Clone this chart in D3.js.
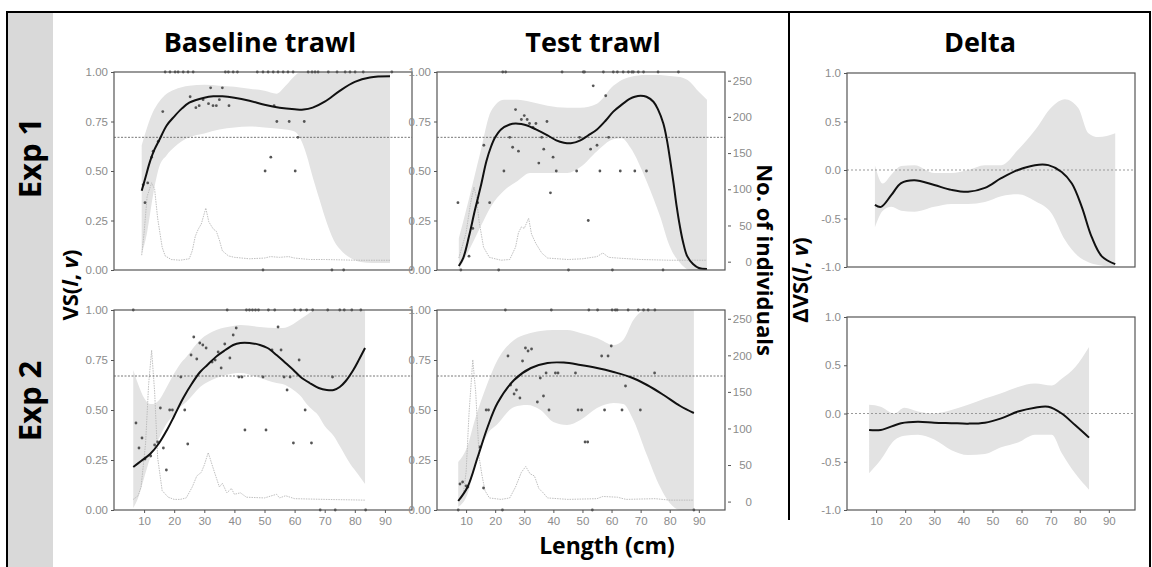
<!DOCTYPE html>
<html>
<head>
<meta charset="utf-8">
<script src="https://cdn.jsdelivr.net/npm/d3@7"></script>
<style>
  body { margin: 0; background: #fff; }
  svg text { font-family: "Liberation Sans", Arial, sans-serif; }
  .big { font-family: "Open Sans", Lato, sans-serif !important; font-weight: 700; fill: #000; }
</style>
</head>
<body>
<script>
//tick values
var lengthTicks = [10, 20, 30, 40, 50, 60, 70, 80, 90];
var vsTicks = [0, 0.25, 0.5, 0.75, 1];
var countTicks = [0, 50, 100, 150, 200, 250];
var deltaTicks = [-1, -0.5, 0, 0.5, 1];
var vsRef = 0.67; //dotted reference line in the VS panels

//Baseline trawl, Exp 1: fit [length, VS], band [length, low, high], counts [length, n], points [length, VS]
var b1Fit = [[9.2,0.40],[10.5,0.47],[12,0.55],[13.5,0.61],[15,0.655],[17.5,0.73],[20,0.775],[22.5,0.815],[25,0.845],[30,0.87],[33,0.877],[36,0.877],[40,0.87],[45,0.855],[50,0.835],[55,0.82],[60,0.812],[63,0.81],[66,0.82],[70,0.85],[75,0.905],[80,0.95],[85,0.972],[91.7,0.978]];
var b1Band = [[9.2,0.08,0.63],[11,0.19,0.72],[13,0.38,0.80],[15,0.52,0.85],[17.5,0.58,0.89],[20,0.62,0.91],[25,0.67,0.93],[30,0.69,0.935],[35,0.71,0.93],[40,0.72,0.925],[45,0.725,0.915],[50,0.72,0.905],[54,0.715,0.89],[57,0.71,0.93],[60,0.70,0.98],[62,0.66,1],[64,0.58,1],[66,0.47,1],[68.4,0.35,1],[70,0.27,1],[73,0.15,1],[76,0.09,1],[78.6,0.06,1],[82,0.04,1],[86,0.035,1],[91.7,0.035,1]];
var b1Count = [[9.2,9],[10,40],[11,90],[12.5,109],[13.5,100],[14.5,60],[16,20],[17,8],[19,3],[22,2],[25,4],[26,15],[27,35],[28,45],[29,52],[30.5,74],[31.5,55],[33,45],[34,42],[35,30],[36,15],[38,8],[40,6],[45,4],[50,5],[52,7],[55,6],[58,7],[60,5],[65,3],[70,3],[80,2],[91.7,2]];
var b1Points = [[9.7,0.43],[10.3,0.34],[11.2,0.44],[12.5,0.57],[13,0.60],[14.7,0.65],[16.2,0.80],[25.3,0.875],[27.2,0.82],[28.3,0.83],[29.6,0.86],[31.4,0.84],[32.1,0.92],[32.9,0.83],[34,0.83],[35,0.86],[36,0.92],[38.2,0.83],[50.2,0.50],[52.1,0.57],[53.2,0.83],[54.1,0.75],[58.2,0.75],[60.2,0.50],[61.1,0.67],[63.2,0.75],
  [17,1],[18.6,1],[20.3,1],[21.3,1],[23,1],[24.6,1],[26.3,1],[37,1],[38,1],[39.6,1],[41,1],[47.6,1],[49.5,1],[51.2,1],[52.9,1],[54.5,1],[56.2,1],[57.8,1],[59.5,1],[64.5,1],[65.8,1],[66.8,1],[67.8,1],[71.2,1],[74.1,1],[76.8,1],[78.4,1],[80.1,1],[82.8,1],[92.3,1],
  [49.5,0],[72.4,0],[76.3,0]];

//Test trawl, Exp 1
var t1Fit = [[7.5,0.02],[9,0.06],[11,0.17],[13,0.30],[15,0.42],[17,0.55],[18.5,0.62],[20,0.67],[22,0.71],[25,0.735],[27,0.74],[29,0.737],[31,0.73],[34,0.71],[38,0.68],[41,0.655],[43.6,0.643],[46,0.64],[49.3,0.655],[52,0.68],[55,0.71],[58,0.755],[60.6,0.80],[63.5,0.835],[66.4,0.865],[68,0.875],[70,0.88],[72,0.875],[74.4,0.85],[76,0.81],[77.8,0.74],[79,0.66],[80.1,0.56],[81.3,0.44],[82.4,0.32],[83.5,0.22],[84.6,0.14],[86,0.07],[88,0.03],[90,0.01],[92.8,0.005]];
var t1Band = [[7.5,0,0.16],[11,0.10,0.36],[15,0.22,0.60],[18.5,0.32,0.80],[23,0.40,0.86],[27.7,0.45,0.86],[32,0.49,0.85],[38,0.49,0.83],[44.8,0.49,0.82],[49.3,0.52,0.82],[55,0.60,0.84],[60.6,0.66,0.93],[63.5,0.665,0.96],[66.4,0.62,0.975],[72,0.45,0.985],[76.7,0.27,0.985],[80,0.12,0.98],[83.6,0.035,0.975],[87,0,0.95],[90,0,0.90],[92.8,0,0.86]];
var t1Count = [[7.5,5],[10,40],[11.5,80],[12.7,103],[13.5,90],[14.5,55],[16,20],[18,6],[22,2],[25,3],[27,20],[28,40],[29,48],[30,46],[31.5,60],[32.5,38],[34,25],[36,12],[38,5],[45,3],[50,4],[55,7],[57,12],[59,6],[62,5],[70,3],[80,2],[92.8,2]];
var t1Points = [[7.2,0.34],[11,0.07],[12.3,0.21],[14,0.34],[16.1,0.63],[18.1,0.34],[23,0.50],[25,0.67],[26,0.62],[27,0.81],[28,0.60],[29,0.76],[30,0.78],[31,0.76],[31.8,0.74],[33,0.72],[34,0.74],[35,0.54],[36,0.67],[36.7,0.61],[37.8,0.75],[39,0.39],[39.9,0.57],[41,0.50],[48,0.50],[49,0.67],[52,0.25],[52.8,0.61],[53.7,0.93],[55,0.63],[56,0.50],[58,0.88],[59,0.67],[63,0.50],[68,0.50],[72,0.50],
  [22.6,1],[23.6,1],[43,1],[50.3,1],[50.7,1],[57.2,1],[60.6,1],[62,1],[64,1],[65.8,1],[67,1],[67.5,1],[69.2,1],[71,1],[76,1],[83,1],
  [8.2,0],[21.2,0],[45.2,0],[60.3,0],[77.7,0]];

//Baseline trawl, Exp 2
var b2Fit = [[6.4,0.215],[9,0.245],[12,0.28],[15,0.335],[17.6,0.40],[20,0.47],[23,0.56],[26,0.635],[28.6,0.69],[31,0.725],[34.2,0.77],[37,0.80],[39.6,0.825],[42,0.835],[45,0.835],[48.5,0.825],[51,0.81],[54,0.775],[57,0.735],[59.6,0.70],[62,0.665],[65,0.635],[68,0.61],[70.7,0.60],[73,0.60],[75,0.615],[77,0.645],[79.5,0.70],[81.5,0.755],[83.4,0.81]];
var b2Band = [[6.4,0.01,0.70],[8,0.06,0.63],[10,0.16,0.56],[12,0.26,0.53],[13,0.30,0.53],[15,0.36,0.55],[17,0.42,0.60],[19.5,0.47,0.67],[22,0.515,0.73],[24,0.54,0.765],[28.6,0.615,0.85],[34,0.66,0.90],[39.6,0.683,0.92],[42,0.685,0.925],[48.5,0.66,0.915],[54,0.635,0.91],[56,0.63,0.91],[59.6,0.60,0.93],[62,0.57,0.955],[64,0.53,0.975],[66,0.50,0.995],[67.5,0.48,1],[70,0.42,1],[73,0.37,1],[75,0.32,1],[78.5,0.23,1],[81,0.18,1],[83.4,0.13,1]];
var b2Count = [[6.4,3],[8,8],[9,20],[10.5,80],[11.5,160],[12.5,207],[13.5,150],[14.5,60],[16,15],[18,6],[20,3],[22,3],[24,5],[26,20],[27.5,35],[29,40],[30,50],[31.3,67],[33,45],[35,20],[36,25],[37.5,12],[39,18],[40,10],[42,12],[44,6],[50,5],[54,10],[55,5],[57,8],[60,4],[70,3],[83.4,2]];
var b2Points = [[7.3,0.435],[8.3,0.31],[9.3,0.36],[10.3,0.255],[12.2,0.27],[13.5,0.325],[14.5,0.34],[15.4,0.51],[16.4,0.31],[17.4,0.20],[18.5,0.50],[19.4,0.50],[22.2,0.665],[23.5,0.50],[24.5,0.33],[25.6,0.775],[26.5,0.865],[27.5,0.755],[28.5,0.835],[29.5,0.825],[30.6,0.81],[32.6,0.74],[33.6,0.75],[34.6,0.79],[35.6,0.71],[36.8,0.83],[38.5,0.76],[39.6,0.875],[40.6,0.91],[41.5,0.665],[42.5,0.665],[43.5,0.40],
  [49.5,0.665],[50.5,0.40],[52.5,0.80],[54.5,0.915],[55.5,0.80],[56.5,0.665],[57.5,0.60],[58.5,0.665],[59.6,0.335],[61.5,0.75],[63.5,0.50],[65.6,0.335],[72.6,0.665],
  [6.4,1],[37.6,1],[44,1],[45,1],[46,1],[47,1],[48,1],[51.3,1],[53.4,1],[60,1],[62,1],[64,1],[66,1],[71,1],[75,1],[76.5,1],[79,1],[82,1],
  [68.5,0],[73.5,0],[83.6,0]];

//Test trawl, Exp 2
var t2Fit = [[7.3,0.045],[10.5,0.115],[14,0.265],[17.4,0.415],[20.8,0.535],[26.5,0.65],[32.3,0.71],[38,0.735],[43.6,0.737],[49.3,0.725],[55,0.71],[60.7,0.69],[66.4,0.665],[72.2,0.625],[77.9,0.575],[83.6,0.52],[88.3,0.485]];
var t2Band = [[7.3,0.015,0.24],[10.5,0.08,0.32],[13,0.215,0.45],[17.4,0.38,0.635],[20.8,0.43,0.75],[26.5,0.515,0.85],[31,0.525,0.88],[35.6,0.50,0.895],[40,0.44,0.90],[44.7,0.425,0.90],[49.3,0.45,0.885],[55,0.51,0.86],[60.7,0.535,0.825],[64,0.53,0.85],[67.5,0.45,0.95],[72,0.28,1],[76.7,0.115,1],[80,0.035,1],[83.6,0,1],[88.3,0,1]];
var t2Count = [[7.5,2],[9,10],[10,40],[11,120],[12.3,194],[13.3,150],[14.5,60],[15.5,35],[16.5,15],[18,5],[22,3],[25,5],[27,20],[29,40],[30.5,48],[32,38],[33.5,35],[35,18],[36.5,12],[38,5],[45,3],[55,4],[57,7],[62,6],[65,3],[75,4],[80,2],[88.3,2]];
var t2Points = [[7.9,0.13],[8.8,0.14],[10,0.12],[10.6,0.115],[14.8,0.315],[16,0.11],[16.9,0.50],[17.7,0.50],[24.4,0.77],[25.3,0.625],[26.5,0.58],[27.3,0.60],[28.5,0.56],[29.4,0.745],[30.4,0.81],[31.3,0.795],[32.5,0.805],[34.5,0.54],[35.5,0.66],[36.6,0.57],[37.5,0.685],[38.5,0.50],[40.7,0.685],[41.6,0.685],[47.6,0.685],[48.5,0.50],[49.7,0.50],[50.9,0.34],[51.8,0.34],[56.6,0.77],[57.6,0.50],[58.8,0.77],[59.9,0.82],[63.6,0.50],[64.8,0.62],[69.9,0.50],[74.8,0.685],
  [23.5,1],[39.3,1],[52.2,1],[55.2,1],[60.2,1],[61.3,1],[61.9,1],[65.7,1],[69.2,1],[71,1],[72.6,1],[74.9,1],
  [7.3,0],[22.5,0],[53.4,0],[88.3,0]];

//Delta, Exp 1 and Exp 2
var d1Fit = [[9.6,-0.36],[11.7,-0.38],[15.2,-0.26],[18.6,-0.135],[23.2,-0.105],[30,-0.155],[35.9,-0.205],[41.6,-0.225],[47.4,-0.185],[53,-0.085],[58.8,0],[64.6,0.05],[69.2,0.05],[73.8,-0.02],[77.3,-0.14],[80.7,-0.38],[84.1,-0.69],[87.6,-0.89],[92.2,-0.97]];
var d1Band = [[9.6,-0.59,0.05],[12.3,-0.42,-0.14],[15.2,-0.38,-0.05],[18.6,-0.42,0.04],[23.2,-0.43,0.05],[30,-0.38,-0.03],[35.9,-0.35,-0.03],[41.6,-0.35,0],[47.4,-0.33,0.05],[53,-0.27,0.05],[58.8,-0.25,0.21],[64.6,-0.32,0.41],[70.4,-0.45,0.65],[74.9,-0.72,0.73],[79.5,-0.89,0.64],[83,-0.95,0.38],[86.4,-0.98,0.34],[92.2,-1,0.38]];
var d2Fit = [[7.6,-0.17],[11.6,-0.17],[18.6,-0.10],[24.4,-0.085],[30,-0.095],[35.9,-0.10],[41.6,-0.105],[47.4,-0.095],[53,-0.05],[58.8,0.02],[64.6,0.06],[69.2,0.07],[73.8,0],[78.4,-0.12],[83.2,-0.25]];
var d2Band = [[7.6,-0.62,0.09],[11.6,-0.48,0.07],[16.2,-0.28,0],[19.7,-0.23,0.06],[24.4,-0.22,0.02],[30,-0.27,0],[35.9,-0.38,0.035],[41.6,-0.43,0.09],[47.4,-0.42,0.155],[53,-0.35,0.21],[58.8,-0.30,0.275],[64.6,-0.22,0.31],[70.4,-0.22,0.29],[73.8,-0.41,0.36],[78.4,-0.62,0.48],[83.2,-0.79,0.69]];

//panel frames (layout)
var panels = [
    {id:"b1", x0:114, x1:412, y0:72, y1:270, fit:b1Fit, band:b1Band, count:b1Count, points:b1Points, xLabels:false, right:false},
    {id:"t1", x0:437, x1:725, y0:72, y1:270, fit:t1Fit, band:t1Band, count:t1Count, points:t1Points, xLabels:false, right:true},
    {id:"b2", x0:114, x1:412, y0:310, y1:510, fit:b2Fit, band:b2Band, count:b2Count, points:b2Points, xLabels:true, right:false},
    {id:"t2", x0:437, x1:725, y0:310, y1:510, fit:t2Fit, band:t2Band, count:t2Count, points:t2Points, xLabels:true, right:true},
    {id:"d1", x0:847, x1:1135, y0:73, y1:267, fit:d1Fit, band:d1Band, delta:true, xLabels:false},
    {id:"d2", x0:847, x1:1135, y0:317, y1:510, fit:d2Fit, band:d2Band, delta:true, xLabels:true}
];

window.onload = drawFigure;

function drawFigure() {
    var svg = d3.select("body").append("svg")
        .attr("width", 1152)
        .attr("height", 567);

    //grey strip with the experiment labels and the outer box
    svg.append("rect").attr("x", 8).attr("y", 13).attr("width", 45).attr("height", 560).attr("fill", "#d9d9d9");
    svg.append("rect").attr("x", 7).attr("y", 12).attr("width", 1143).attr("height", 600)
        .attr("fill", "none").attr("stroke", "#000").attr("stroke-width", 2);
    svg.append("line").attr("x1", 789).attr("x2", 789).attr("y1", 12).attr("y2", 520)
        .attr("stroke", "#000").attr("stroke-width", 2);

    panels.forEach(function (p) { drawPanel(svg, p); });

    //titles and axis titles
    bigText(svg, "Baseline trawl", 260, 52, 0, 27);
    bigText(svg, "Test trawl", 593, 52, 0, 27);
    bigText(svg, "Delta", 980, 52, 0, 27);
    bigText(svg, "Exp 1", 41, 158, -90, 31);
    bigText(svg, "Exp 2", 41, 401, -90, 31);
    bigText(svg, "Length (cm)", 607, 554, 0, 23);

    var vs = svg.append("text").attr("class", "big")
        .attr("transform", "translate(78,285) rotate(-90)")
        .attr("text-anchor", "middle").style("font-size", "22px");
    vs.append("tspan").text("VS(");
    vs.append("tspan").style("font-style", "italic").text("l");
    vs.append("tspan").text(", ");
    vs.append("tspan").style("font-style", "italic").text("v");
    vs.append("tspan").text(")");

    var dvs = svg.append("text").attr("class", "big")
        .attr("transform", "translate(808,280) rotate(-90)")
        .attr("text-anchor", "middle").style("font-size", "22px");
    dvs.append("tspan").text("\u0394VS(");
    dvs.append("tspan").style("font-style", "italic").text("l");
    dvs.append("tspan").text(", ");
    dvs.append("tspan").style("font-style", "italic").text("v");
    dvs.append("tspan").text(")");

    svg.append("text").attr("class", "big")
        .attr("transform", "translate(757,260) rotate(90)")
        .attr("text-anchor", "middle").style("font-size", "22px")
        .text("No. of individuals");
}

function bigText(svg, txt, x, y, rot, size) {
    svg.append("text").attr("class", "big")
        .attr("transform", "translate(" + x + "," + y + ") rotate(" + rot + ")")
        .attr("text-anchor", "middle")
        .style("font-size", size + "px")
        .text(txt);
}

function styleAxis(g) {
    g.select(".domain").remove();
    g.selectAll(".tick line").attr("stroke", "#555");
    g.selectAll(".tick text").attr("fill", "#8c8c8c").style("font-size", "11.5px")
        .style("font-family", "'Liberation Sans', Arial, sans-serif");
}

function drawPanel(svg, p) {
    var x = d3.scaleLinear().domain([0, 99]).range([p.x0, p.x1]);
    var y = d3.scaleLinear().domain(p.delta ? [-1, 1] : [0, 1]).range([p.y1, p.y0]);
    var yc = d3.scaleLinear().domain([-11.5, 262]).range([p.y1, p.y0]);

    var clipId = "clip-" + p.id;
    svg.append("clipPath").attr("id", clipId).append("rect")
        .attr("x", p.x0).attr("y", p.y0).attr("width", p.x1 - p.x0).attr("height", p.y1 - p.y0);
    var g = svg.append("g").attr("clip-path", "url(#" + clipId + ")");

    //confidence band
    var area = d3.area()
        .x(function (d) { return x(d[0]); })
        .y0(function (d) { return y(d[1]); })
        .y1(function (d) { return y(d[2]); })
        .curve(d3.curveMonotoneX);
    g.append("path").datum(p.band).attr("d", area).attr("fill", "#e3e3e3");

    //length distribution
    if (p.count) {
        var countLine = d3.line()
            .x(function (d) { return x(d[0]); })
            .y(function (d) { return yc(d[1]); })
            .curve(d3.curveLinear);
        g.append("path").datum(p.count).attr("d", countLine)
            .attr("fill", "none").attr("stroke", "#b8b8b8")
            .attr("stroke-width", 0.9).attr("stroke-dasharray", "1.5,1");
    }

    //reference line
    var ref = p.delta ? 0 : vsRef;
    svg.append("line")
        .attr("x1", p.x0).attr("x2", p.x1)
        .attr("y1", y(ref)).attr("y2", y(ref))
        .attr("stroke", p.delta ? "#999" : "#555")
        .attr("stroke-width", p.delta ? 1.2 : 0.8)
        .attr("stroke-dasharray", p.delta ? "2,2" : "2,1.5");

    //observed points
    if (p.points) {
        svg.append("g").selectAll("circle")
            .data(p.points).enter()
            .append("circle")
            .attr("cx", function (d) { return x(d[0]); })
            .attr("cy", function (d) { return y(d[1]); })
            .attr("r", 1.4)
            .attr("fill", "#555");
    }

    //fitted curve
    var line = d3.line()
        .x(function (d) { return x(d[0]); })
        .y(function (d) { return y(d[1]); })
        .curve(d3.curveCatmullRom);
    svg.append("path").datum(p.fit).attr("d", line)
        .attr("fill", "none").attr("stroke", "#111").attr("stroke-width", 2);

    //frame
    svg.append("rect")
        .attr("x", p.x0).attr("y", p.y0)
        .attr("width", p.x1 - p.x0).attr("height", p.y1 - p.y0)
        .attr("fill", "none").attr("stroke", "#555").attr("stroke-width", 1.2);

    //left axis
    var leftAxis = d3.axisLeft(y)
        .tickValues(p.delta ? deltaTicks : vsTicks)
        .tickSize(3).tickPadding(3)
        .tickFormat(function (d) { return d.toFixed(p.delta ? 1 : 2); });
    svg.append("g").attr("transform", "translate(" + p.x0 + ",0)").call(leftAxis).call(styleAxis);

    //bottom axis
    if (p.xLabels) {
        var bottomAxis = d3.axisBottom(x).tickValues(lengthTicks).tickSize(3).tickPadding(4);
        svg.append("g").attr("transform", "translate(0," + p.y1 + ")").call(bottomAxis).call(styleAxis);
    }

    //right count axis
    if (p.right) {
        var rightAxis = d3.axisRight(yc).tickValues(countTicks).tickSize(3).tickPadding(3);
        var ra = svg.append("g").attr("transform", "translate(" + (p.x1 + 3) + ",0)").call(rightAxis).call(styleAxis);
        ra.selectAll(".tick text").attr("text-anchor", "end").attr("x", 24);
    }
}
</script>
</body>
</html>
